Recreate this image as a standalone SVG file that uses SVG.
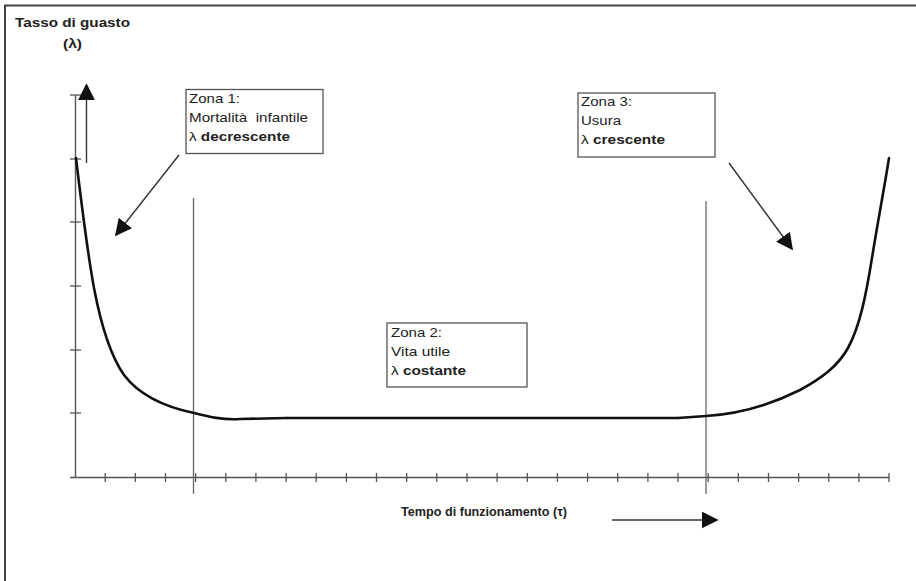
<svg xmlns="http://www.w3.org/2000/svg" width="916" height="581" viewBox="0 0 916 581">
  <style>
    .frame { fill: none; stroke: #444; stroke-width: 2; }
    .axis { fill: none; stroke: #555; stroke-width: 1.4; }
    .tick { stroke: #555; stroke-width: 1.3; }
    .divider { stroke: #666; stroke-width: 1.3; }
    .curve { fill: none; stroke: #111; stroke-width: 2.6; stroke-linecap: round; }
    .box { fill: #fff; stroke: #555; stroke-width: 1.3; }
    .lbl { font-family: "Liberation Sans", Arial, sans-serif; font-size: 13px; fill: #222; }
    .b { font-weight: bold; }
    .title { font-family: "Liberation Sans", Arial, sans-serif; font-size: 13px; font-weight: bold; fill: #222; }
    .ptr { stroke: #333; stroke-width: 1.4; fill: none; }
  </style>
  <defs>
    <marker id="headBig" viewBox="0 0 10 10" refX="9" refY="5" markerWidth="17" markerHeight="17" markerUnits="userSpaceOnUse" orient="auto">
      <path d="M0,0 L10,5 L0,10 Z" fill="#111"/>
    </marker>
  </defs>

  <rect width="916" height="581" fill="#fff"/>
  <!-- page frame (open at right and bottom) -->
  <path class="frame" d="M5,581 V5.5 H916"/>

  <!-- axis titles -->
  <text class="title" x="15" y="27" textLength="115" lengthAdjust="spacingAndGlyphs">Tasso di guasto</text>
  <text class="title" x="63" y="48" textLength="19" lengthAdjust="spacingAndGlyphs">(λ)</text>

  <!-- axes -->
  <g id="axes">
    <line class="axis" x1="75.5" y1="95" x2="75.5" y2="478"/>
    <line class="axis" x1="70" y1="477.5" x2="889" y2="477.5"/>
    <g class="tick">
      <line x1="70" y1="95" x2="81" y2="95"/>
      <line x1="70" y1="159" x2="81" y2="159"/>
      <line x1="70" y1="222" x2="81" y2="222"/>
      <line x1="70" y1="286" x2="81" y2="286"/>
      <line x1="70" y1="350" x2="81" y2="350"/>
      <line x1="70" y1="413" x2="81" y2="413"/>
    </g>
    <g class="tick">
      <line x1="105.2" y1="473" x2="105.2" y2="482"/>
      <line x1="135.3" y1="473" x2="135.3" y2="482"/>
      <line x1="165.5" y1="473" x2="165.5" y2="482"/>
      <line x1="195.6" y1="473" x2="195.6" y2="482"/>
      <line x1="225.8" y1="473" x2="225.8" y2="482"/>
      <line x1="255.9" y1="473" x2="255.9" y2="482"/>
      <line x1="286.1" y1="473" x2="286.1" y2="482"/>
      <line x1="316.2" y1="473" x2="316.2" y2="482"/>
      <line x1="346.4" y1="473" x2="346.4" y2="482"/>
      <line x1="376.5" y1="473" x2="376.5" y2="482"/>
      <line x1="406.7" y1="473" x2="406.7" y2="482"/>
      <line x1="436.8" y1="473" x2="436.8" y2="482"/>
      <line x1="467" y1="473" x2="467" y2="482"/>
      <line x1="497.1" y1="473" x2="497.1" y2="482"/>
      <line x1="527.3" y1="473" x2="527.3" y2="482"/>
      <line x1="557.4" y1="473" x2="557.4" y2="482"/>
      <line x1="587.6" y1="473" x2="587.6" y2="482"/>
      <line x1="617.7" y1="473" x2="617.7" y2="482"/>
      <line x1="647.9" y1="473" x2="647.9" y2="482"/>
      <line x1="678" y1="473" x2="678" y2="482"/>
      <line x1="708.2" y1="473" x2="708.2" y2="482"/>
      <line x1="738.3" y1="473" x2="738.3" y2="482"/>
      <line x1="768.5" y1="473" x2="768.5" y2="482"/>
      <line x1="798.6" y1="473" x2="798.6" y2="482"/>
      <line x1="828.8" y1="473" x2="828.8" y2="482"/>
      <line x1="858.9" y1="473" x2="858.9" y2="482"/>
      <line x1="889" y1="473" x2="889" y2="482"/>
    </g>
  </g>

  <!-- zone dividers -->
  <line class="divider" x1="193.5" y1="198" x2="193.5" y2="494"/>
  <line class="divider" x1="706" y1="201" x2="706" y2="494"/>

  <!-- bathtub failure-rate curve -->
  <g id="curve">
    <path class="curve" d="M76,158 C81,200 87,250 94,288 C101,325 110,355 124,375 C140,396 165,407 194,413 C210,417 222,420 240,419 L287,418"/>
    <path class="curve" d="M287,418 L678,418" stroke-width="3.6"/>
    <path class="curve" d="M678,418 L706,416 C740,414 770,405 800,390 C822,378 838,366 848,348 C860,326 866,295 872,258 C878,220 884,190 889,158"/>
  </g>

  <!-- connectors -->
  <g id="connectors">
    <line class="ptr" x1="86.5" y1="163" x2="86.5" y2="85" marker-end="url(#headBig)"/>
    <line class="ptr" x1="179" y1="155" x2="116" y2="235" marker-end="url(#headBig)"/>
    <line class="ptr" x1="729" y1="163" x2="792" y2="249" marker-end="url(#headBig)"/>
    <line class="ptr" x1="612" y1="520" x2="717" y2="520" marker-end="url(#headBig)"/>
  </g>

  <g id="zone1">
    <rect class="box" x="186" y="89.5" width="137" height="64"/>
    <text class="lbl" x="189" y="103" textLength="51" lengthAdjust="spacingAndGlyphs">Zona 1:</text>
    <text class="lbl" x="189" y="122" textLength="119" lengthAdjust="spacingAndGlyphs" xml:space="preserve">Mortalità  infantile</text>
    <text class="lbl" x="189" y="141" textLength="101" lengthAdjust="spacingAndGlyphs">λ <tspan class="b">decrescente</tspan></text>
  </g>

  <g id="zone2">
    <rect class="box" x="387" y="323" width="140" height="64"/>
    <text class="lbl" x="391" y="337" textLength="51" lengthAdjust="spacingAndGlyphs">Zona 2:</text>
    <text class="lbl" x="391" y="356" textLength="59" lengthAdjust="spacingAndGlyphs">Vita utile</text>
    <text class="lbl" x="391" y="375" textLength="75" lengthAdjust="spacingAndGlyphs">λ <tspan class="b">costante</tspan></text>
  </g>

  <g id="zone3">
    <rect class="box" x="578" y="93" width="137" height="64"/>
    <text class="lbl" x="581" y="106" textLength="51" lengthAdjust="spacingAndGlyphs">Zona 3:</text>
    <text class="lbl" x="581" y="125" textLength="40" lengthAdjust="spacingAndGlyphs">Usura</text>
    <text class="lbl" x="581" y="144" textLength="84" lengthAdjust="spacingAndGlyphs">λ <tspan class="b">crescente</tspan></text>
  </g>

  <text class="title" x="401" y="516" font-size="11" textLength="166" lengthAdjust="spacingAndGlyphs">Tempo di funzionamento (τ)</text>
</svg>
